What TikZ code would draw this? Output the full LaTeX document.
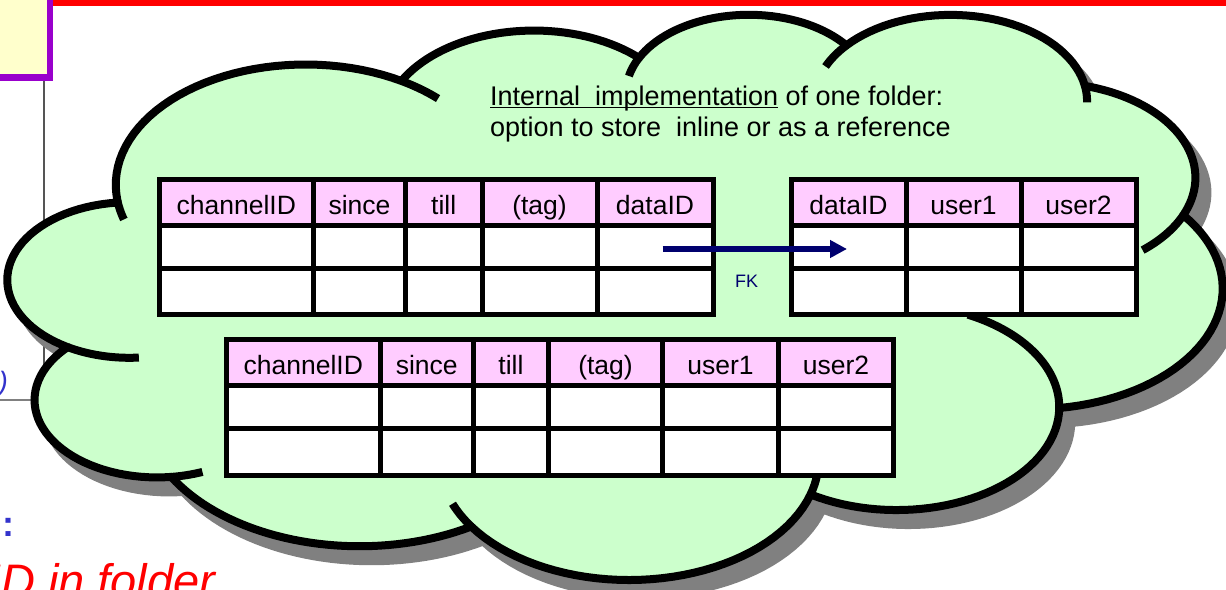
\documentclass[tikz,border=0pt]{standalone}
\usepackage{fontspec}
\setmainfont{Liberation Sans}
\usetikzlibrary{arrows.meta}

\definecolor{cloudfill}{HTML}{CCFFCC}
\definecolor{hdrfill}{HTML}{FFCCFF}
\definecolor{fknavy}{RGB}{0,0,110}
\definecolor{boxpurple}{HTML}{9900CC}
\definecolor{boxyellow}{HTML}{FFFFCC}
\definecolor{noteblue}{HTML}{3333CC}
\definecolor{shadowgray}{RGB}{128,128,128}
\definecolor{rulegray}{RGB}{85,85,85}

% underline that sits just below the baseline
\newcommand\ulin[1]{\setbox0=\hbox{#1}\rlap{\rule[-3.3pt]{\wd0}{1.7pt}}\box0\relax}

\begin{document}
\begin{tikzpicture}[x=1pt, y=-1pt, samples=40,
  % eleven elliptic bumps of the cloud, clockwise from the upper left
  cloud outline/.style={insert path={
    plot[domain=172.25:300.36] ({305.57+189.8*cos(\x)},{184.69+120.2*sin(\x)})
    -- plot[domain=207.98:314.55] ({533.87+149.9*cos(\x)},{125.55+95.0*sin(\x)})
    -- plot[domain=206.51:322.67] ({748.83+122.7*cos(\x)},{92.58+77.8*sin(\x)})
    -- plot[domain=220.28:349.79] ({950.56+136.5*cos(\x)},{101.18+86.3*sin(\x)})
    -- plot[domain=-74.77:23.21] ({1045.52+149.9*cos(\x)},{177.65+95.1*sin(\x)})
    -- plot[domain=-37.53:81.86] ({1032.28+190.4*cos(\x)},{288.6+120.6*sin(\x)})
    -- plot[domain=0.46:121.98] ({896.64+162.6*cos(\x)},{407.15+102.9*sin(\x)})
    -- plot[domain=16.84:146.22] ({628.97+189.7*cos(\x)},{459.53+120.5*sin(\x)})
    -- plot[domain=58.98:150.19] ({359.52+216.9*cos(\x)},{408.35+137.9*sin(\x)})
    -- plot[domain=83.31:223.12] ({157.04+122.5*cos(\x)},{400.03+77.4*sin(\x)})
    -- plot[domain=120.36:264.11] ({129.36+122.1*cos(\x)},{279.99+77.8*sin(\x)})
    -- cycle}},
  cloud edge/.style={line width=8pt, line join=round},
  cell/.style={rectangle, draw=black, line width=5pt, inner sep=0pt, outer sep=0pt},
  hdrcell/.style={cell, fill=hdrfill, font=\fontsize{26.5}{30}\selectfont,
    text height=25pt, text depth=1pt},
  datacell/.style={cell, fill=white},
  fkarrow/.style={draw=fknavy, line width=5.7pt,
    -{Triangle[length=17pt,width=17pt]}},
  plain/.style={inner sep=0pt, outer sep=0pt}
]
\useasboundingbox (0,0) rectangle (1226,589);
\clip (0,0) rectangle (1226,589);

% slide background pieces
\fill[red] (0,0) rectangle (1226,5.7);
\filldraw[fill=boxyellow, draw=boxpurple, line width=6.5pt] (-20,-20) rectangle (50,77.5);
\draw[rulegray, line width=1.8pt] (44.3,81) -- (44.3,400);
\draw[gray, line width=1.3pt] (0,400) -- (44.3,400);
\node[plain, anchor=base east, text=noteblue, font=\fontsize{28}{32}\selectfont\itshape]
  (sidenote) at (8,391.5) {(d)};
\node[plain, anchor=base, text=noteblue, font=\fontsize{36}{40}\selectfont\bfseries]
  (colon) at (8.3,536) {:};
\node[plain, anchor=base west, text=red, font=\fontsize{47}{52}\selectfont\itshape]
  (foldernote) at (-12,597) {ID in folder};

% cloud: shadow, body, inner curls
\filldraw[shadowgray, cloud edge, shift={(12,15)}, cloud outline];
\filldraw[fill=cloudfill, draw=black, cloud edge, cloud outline];
\draw[cloud edge, line cap=butt]
  plot[domain=85.54:120.36] ({129.36+122.1*cos(\x)},{279.99+77.8*sin(\x)})
  plot[domain=68.23:83.31] ({157.04+122.5*cos(\x)},{400.03+77.4*sin(\x)})
  plot[domain=146.22:158.47] ({628.97+189.7*cos(\x)},{459.53+120.5*sin(\x)})
  plot[domain=4.73:16.84] ({628.97+189.7*cos(\x)},{459.53+120.5*sin(\x)})
  plot[domain=-64.03:0.46] ({896.64+162.6*cos(\x)},{407.15+102.9*sin(\x)})
  plot[domain=23.21:49.64] ({1045.52+149.9*cos(\x)},{177.65+95.1*sin(\x)})
  plot[domain=-10.21:0.83] ({950.56+136.5*cos(\x)},{101.18+86.3*sin(\x)})
  plot[domain=-156.30:-139.72] ({950.56+136.5*cos(\x)},{101.18+86.3*sin(\x)})
  plot[domain=-167.72:-153.49] ({748.83+122.7*cos(\x)},{92.58+77.8*sin(\x)})
  plot[domain=-59.64:-45.74] ({305.57+189.8*cos(\x)},{184.69+120.2*sin(\x)})
  plot[domain=163.19:172.25] ({305.57+189.8*cos(\x)},{184.69+120.2*sin(\x)});

% heading
\node[plain, anchor=base west, font=\fontsize{27}{32}\selectfont]
  (title1) at (490,105) {\ulin{Internal\ \ implementation} of one folder:};
\node[plain, anchor=base west, font=\fontsize{27}{32}\selectfont]
  (title2) at (490,136.7) {option to store\ \ inline or as a reference};

% table with a reference to the payload
\foreach \c/\w/\t [count=\i] in {236.25/154.5/channelID, 359.5/92/since,
    443.75/76.5/till, 539.5/115/{(tag)}, 655/116/dataID} {
  \node[hdrcell, minimum width=\w pt, minimum height=46pt] (t1h\i) at (\c,202) {\t};
  \node[datacell, minimum width=\w pt, minimum height=43.5pt] (t1a\i) at (\c,246.75) {};
  \node[datacell, minimum width=\w pt, minimum height=45.5pt] (t1b\i) at (\c,291.25) {};
}

% payload table
\foreach \c/\w/\t [count=\i] in {848.5/115/dataID, 963.5/115/user1, 1078.5/115/user2} {
  \node[hdrcell, minimum width=\w pt, minimum height=46pt] (t2h\i) at (\c,202) {\t};
  \node[datacell, minimum width=\w pt, minimum height=43.5pt] (t2a\i) at (\c,246.75) {};
  \node[datacell, minimum width=\w pt, minimum height=45.5pt] (t2b\i) at (\c,291.25) {};
}

% table with the payload stored inline
\foreach \c/\w/\t [count=\i] in {303.25/153.5/channelID, 426.75/93.5/since,
    511/75/till, 605.5/114/{(tag)}, 720.5/116/user1, 836/115/user2} {
  \node[hdrcell, minimum width=\w pt, minimum height=46pt] (t3h\i) at (\c,362) {\t};
  \node[datacell, minimum width=\w pt, minimum height=43.5pt] (t3a\i) at (\c,406.75) {};
  \node[datacell, minimum width=\w pt, minimum height=46.5pt] (t3b\i) at (\c,451.75) {};
}

% foreign key
\coordinate (fkfrom) at (662.7,249);
\coordinate (fkto) at (847,249);
\draw[fkarrow] (fkfrom) -- (fkto);
\node[plain, anchor=base west, text=fknavy, font=\fontsize{18}{22}\selectfont]
  (fk) at (735,287) {FK};
\end{tikzpicture}
\end{document}
